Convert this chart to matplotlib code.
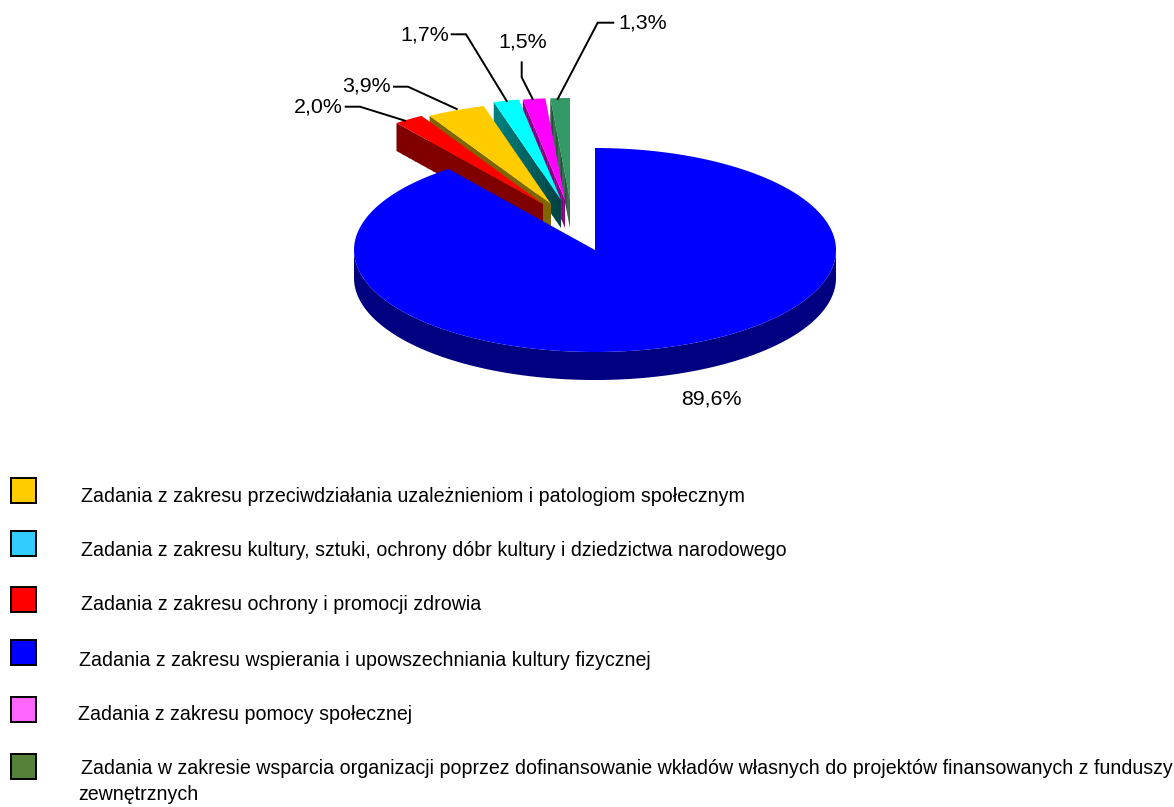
import numpy as np
import matplotlib
matplotlib.use('Agg')
import matplotlib.pyplot as plt
import matplotlib.colors as mcolors

plt.rcParams['font.family'] = ['Liberation Sans', 'DejaVu Sans']

# shares in percent, clockwise from 12 o'clock
shares = [89.6, 2.0, 3.9, 1.7, 1.5, 1.3]
share_labels = ['89,6%', '2,0%', '3,9%', '1,7%', '1,5%', '1,3%']
top_colors = ['#0000FF', '#FF0000', '#FFCC00', '#00FFFF', '#FF00FF', '#339966']
side_colors = ['#000080', '#800000', '#806600', '#008080', '#800080', '#1A4D33']
side_inner = ['#000080', '#800000', '#806600', '#004040', '#800080', '#1A4D33']

legend_labels = [
    'Zadania z zakresu przeciwdziałania uzależnieniom i patologiom społecznym',
    'Zadania z zakresu kultury, sztuki, ochrony dóbr kultury i dziedzictwa narodowego',
    'Zadania z zakresu ochrony i promocji zdrowia',
    'Zadania z zakresu wspierania i upowszechniania kultury fizycznej',
    'Zadania z zakresu pomocy społecznej',
    'Zadania w zakresie wsparcia organizacji poprzez dofinansowanie wkładów własnych do projektów finansowanych z funduszy',
]
legend_colors = ['#FFCC00', '#33CCFF', '#FF0000', '#0000FF', '#FF66FF', '#558139']

# pie geometry in pixels
cx, cy = 595, 250
rx, ry = 241, 102
depth = 28
# shift of the pulled out slices
shift = [(0, 0), (-52, -46), (-44, -46), (-34, -50), (-30, -50), (-25, -50)]

fig = plt.figure(figsize=(11.74, 8.07), dpi=100)
ax = fig.add_axes([0, 0, 1, 1])
ax.set_xlim(0, 1174)
ax.set_ylim(807, 0)
ax.axis('off')


def slice_outline(a0, a1, dx, dy):
    t = np.radians(np.linspace(a0, a1, 200))
    x = cx + dx + rx * np.cos(t)
    y = cy + dy - ry * np.sin(t)
    return np.r_[cx + dx, x], np.r_[cy + dy, y]


edges = 90 - np.cumsum([0] + shares) * 3.6

# back slices first, green to red
for i in range(5, 0, -1):
    x, y = slice_outline(edges[i], edges[i + 1], *shift[i])
    # wall under the left radial edge, darker towards the apex
    c0 = np.array(mcolors.to_rgb(side_colors[i]))
    c1 = np.array(mcolors.to_rgb(side_inner[i]))
    n = 24
    for k in range(n):
        f0, f1 = k / n, (k + 1.2) / n
        f1 = min(f1, 1)
        xa, ya = x[1] + (x[0] - x[1]) * f0, y[1] + (y[0] - y[1]) * f0
        xb, yb = x[1] + (x[0] - x[1]) * f1, y[1] + (y[0] - y[1]) * f1
        ax.fill([xa, xb, xb, xa], [ya, yb, yb + depth, ya + depth],
                color=c0 + (c1 - c0) * f0, lw=0)
    ax.fill(x, y, color=top_colors[i], lw=0)

# blue rim then top
t = np.radians(np.linspace(180, 360, 300))
rim_x = cx + rx * np.cos(t)
rim_y = cy - ry * np.sin(t)
ax.fill(np.r_[rim_x, rim_x[::-1]], np.r_[rim_y, rim_y[::-1] + depth], color=side_colors[0], lw=0)
x, y = slice_outline(edges[0], edges[1], 0, 0)
ax.fill(x, y, color=top_colors[0], lw=0)

# leader lines
leaders = [
    [(345.7, 106.7), (360, 106.7), (405, 120.7)],
    [(394, 86.7), (408, 86.7), (456.7, 109)],
    [(451.7, 34.3), (466, 34.3), (506.7, 101)],
    [(521.7, 62.3), (521.7, 77.3), (532.7, 99)],
    [(613.3, 22.7), (597.7, 22.7), (557.7, 99)],
]
for pts in leaders:
    ax.plot(*zip(*pts), color='black', lw=1.4, solid_joinstyle='miter')

label_fs = 15.4
ax.text(711, 399, share_labels[0], fontsize=label_fs, ha='center', va='center')
ax.text(343, 107, share_labels[1], fontsize=label_fs, ha='right', va='center')
ax.text(391, 86, share_labels[2], fontsize=label_fs, ha='right', va='center')
ax.text(449, 35, share_labels[3], fontsize=label_fs, ha='right', va='center')
ax.text(523, 42, share_labels[4], fontsize=label_fs, ha='center', va='center')
ax.text(618, 23, share_labels[5], fontsize=label_fs, ha='left', va='center')

# legend
box_y = [478, 531, 587, 640, 697, 754]
text_x = [81, 81, 81, 79, 78, 81]
text_y = [496, 551, 604, 660, 715, 769]
legend_fs = 14.15
for i in range(6):
    ax.add_patch(plt.Rectangle((10.5, box_y[i]), 25, 24.5, facecolor=legend_colors[i],
                               edgecolor='black', lw=1.4))
    ax.text(text_x[i], text_y[i], legend_labels[i], fontsize=legend_fs, ha='left', va='center')
ax.text(78, 795, 'zewnętrznych', fontsize=legend_fs, ha='left', va='center')

fig.savefig('out.png', dpi=100)
